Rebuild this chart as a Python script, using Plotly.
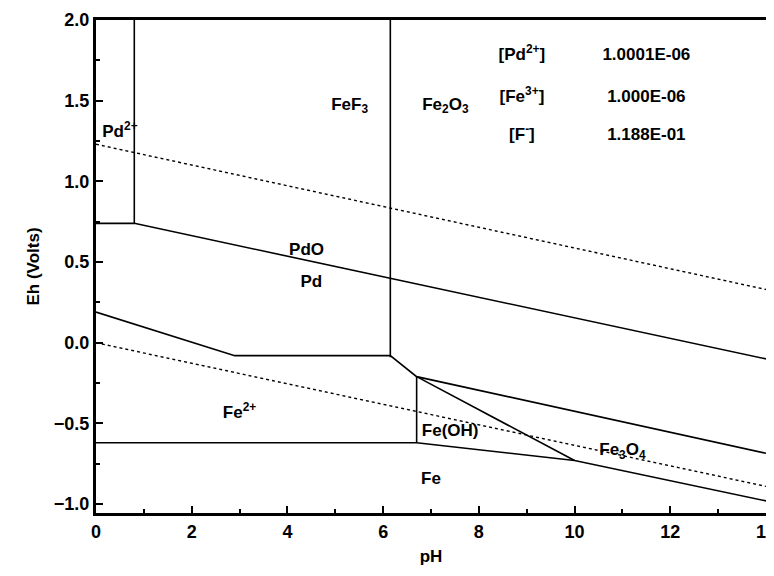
import plotly.graph_objects as go

# boundary lines (pH, Eh)
water_upper_ph = [0, 14]
water_upper_eh = [1.23, 0.33]
water_lower_ph = [0, 14]
water_lower_eh = [0.0, -0.89]

pd2_pdo_ph = [0.8, 0.8]
pd2_pdo_eh = [2.0, 0.74]
pd2_pd_ph = [0, 0.8, 14]
pd2_pd_eh = [0.74, 0.74, -0.10]

fef3_fe2o3_ph = [6.15, 6.15]
fef3_fe2o3_eh = [2.0, -0.09]
fe2_fe3_ph = [0, 2.9, 6.15, 6.7, 14]
fe2_fe3_eh = [0.19, -0.08, -0.08, -0.21, -0.685]
feoh_ph = [6.7, 6.7]
feoh_eh = [-0.21, -0.62]
fe_ph = [0, 6.7, 10.0, 14]
fe_eh = [-0.62, -0.62, -0.73, -0.98]
fe3o4_ph = [6.7, 10.0]
fe3o4_eh = [-0.21, -0.73]

labels = ["Pd<sup>2+</sup>", "FeF<sub>3</sub>", "Fe<sub>2</sub>O<sub>3</sub>", "PdO", "Pd",
          "Fe<sup>2+</sup>", "Fe(OH)", "Fe<sub>3</sub>O<sub>4</sub>", "Fe"]
label_ph = [0.5, 5.3, 7.3, 4.4, 4.5, 3.0, 7.4, 11.0, 7.0]
label_eh = [1.3, 1.47, 1.47, 0.57, 0.37, -0.44, -0.55, -0.67, -0.85]

conc_species = ["[Pd<sup>2+</sup>]", "[Fe<sup>3+</sup>]", "[F<sup>-</sup>]"]
conc_values = ["1.0001E-06", "1.000E-06", "1.188E-01"]
conc_eh = [1.78, 1.52, 1.28]

fig = go.Figure()
solid = dict(color="black", width=1.6)
dotted = dict(color="black", width=1.4, dash="dot")
for xs, ys, ln in [
    (water_upper_ph, water_upper_eh, dotted),
    (water_lower_ph, water_lower_eh, dotted),
    (pd2_pdo_ph, pd2_pdo_eh, solid),
    (pd2_pd_ph, pd2_pd_eh, solid),
    (fef3_fe2o3_ph, fef3_fe2o3_eh, solid),
    (fe2_fe3_ph, fe2_fe3_eh, solid),
    (feoh_ph, feoh_eh, solid),
    (fe_ph, fe_eh, solid),
    (fe3o4_ph, fe3o4_eh, solid),
]:
    fig.add_trace(go.Scatter(x=xs, y=ys, mode="lines", line=ln, showlegend=False))

fig.add_trace(go.Scatter(
    x=label_ph, y=label_eh, mode="text", text=["<b>%s</b>" % t for t in labels],
    textfont=dict(size=17, color="black"), showlegend=False))
fig.add_trace(go.Scatter(
    x=[8.9] * 3, y=conc_eh, mode="text", text=["<b>%s</b>" % t for t in conc_species],
    textfont=dict(size=17, color="black"), showlegend=False))
fig.add_trace(go.Scatter(
    x=[11.5] * 3, y=conc_eh, mode="text", text=["<b>%s</b>" % t for t in conc_values],
    textfont=dict(size=17, color="black"), showlegend=False))

axis_common = dict(
    showgrid=False, zeroline=False, showline=True, linecolor="black", linewidth=3,
    mirror=True, ticks="inside", ticklen=7, tickwidth=2, tickcolor="black",
    tickfont=dict(size=18, color="black", family="Liberation Sans"),
    tickprefix="<b>", ticksuffix="</b>", automargin=False,
)
fig.update_xaxes(range=[0, 14], dtick=2, tickformat="d",
                 minor=dict(ticks="inside", ticklen=4, tickwidth=2, dtick=1, tickcolor="black"),
                 title=dict(text="<b>pH</b>", font=dict(size=17), standoff=10), **axis_common)
fig.update_yaxes(range=[-1.055, 2.0], dtick=0.5, tickformat=".1f",
                 minor=dict(ticks="inside", ticklen=4, tickwidth=2, dtick=0.25, tickcolor="black"),
                 title=dict(text="<b>Eh (Volts)</b>", font=dict(size=17), standoff=10), **axis_common)
fig.update_layout(
    width=774, height=576, margin=dict(l=88, r=16, t=12, b=71),
    plot_bgcolor="white", paper_bgcolor="white",
    font=dict(family="Liberation Sans", color="black"),
)
fig.write_html("out.html")
